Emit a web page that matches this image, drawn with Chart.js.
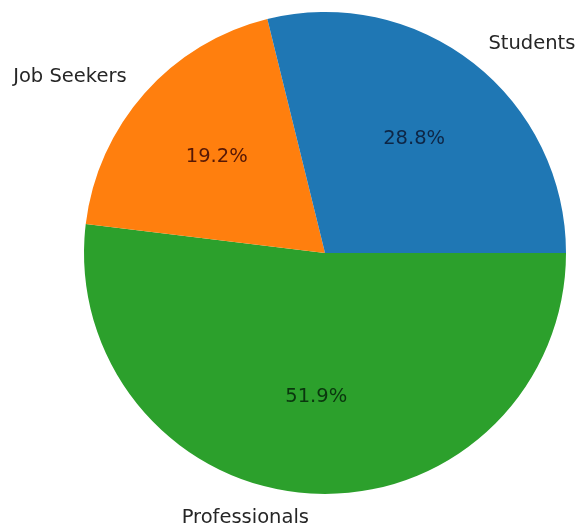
<!DOCTYPE html>
<html>
<head>
<meta charset="utf-8">
<script src="https://cdn.jsdelivr.net/npm/chart.js@4/dist/chart.umd.min.js"></script>
<style>
    html, body { margin: 0; padding: 0; background: #fff; }
    canvas { display: block; }
</style>
</head>
<body>
<canvas id="pie" width="581" height="529"></canvas>
<script>
// data, in matplotlib order (counter-clockwise from 3 o'clock)
const categories = ["Students", "Job Seekers", "Professionals"];
const counts = [15, 10, 27];
const sliceColors = ["#1f77b4", "#ff7f0e", "#2ca02c"];
const pctColors = ["#0e2646", "#561806", "#0a360e"];

// chart.js goes clockwise, so feed it reversed and start at 3 o'clock
const rev = (a) => a.slice().reverse();

const total = counts.reduce((s, v) => s + v, 0);

const pieLabels = {
    id: "pieLabels",
    afterDatasetsDraw: (chart) => {
        const ctx = chart.ctx;
        const meta = chart.getDatasetMeta(0);
        const labels = chart.data.labels;
        const values = chart.data.datasets[0].data;
        const pcol = chart.data.datasets[0].pctColors;
        ctx.save();
        ctx.font = "19.5px 'DejaVu Sans'";
        ctx.textBaseline = "middle";
        meta.data.forEach((arc, i) => {
            const {x, y, startAngle, endAngle, outerRadius} = arc.getProps(["x", "y", "startAngle", "endAngle", "outerRadius"], true);
            const mid = (startAngle + endAngle) / 2;
            const c = Math.cos(mid), s = Math.sin(mid);
            // outer category label
            ctx.fillStyle = "#262626";
            ctx.textAlign = c > 0 ? "left" : "right";
            ctx.fillText(labels[i], x + c * outerRadius * 1.1, y + s * outerRadius * 1.1);
            // percentage
            ctx.fillStyle = pcol[i];
            ctx.textAlign = "center";
            ctx.fillText((values[i] / total * 100).toFixed(1) + "%", x + c * outerRadius * 0.6, y + s * outerRadius * 0.6);
        });
        ctx.restore();
    }
};

new Chart(document.getElementById("pie").getContext("2d"), {
    type: "pie",
    data: {
        labels: rev(categories),
        datasets: [{
            data: rev(counts),
            backgroundColor: rev(sliceColors),
            pctColors: rev(pctColors),
            borderWidth: 0,
        }],
    },
    options: {
        responsive: false,
        animation: false,
        rotation: 90,
        layout: {padding: {left: 84, right: 15, top: 12, bottom: 35}},
        plugins: {
            legend: {display: false},
            tooltip: {enabled: false},
        },
    },
    plugins: [pieLabels],
});
</script>
</body>
</html>
